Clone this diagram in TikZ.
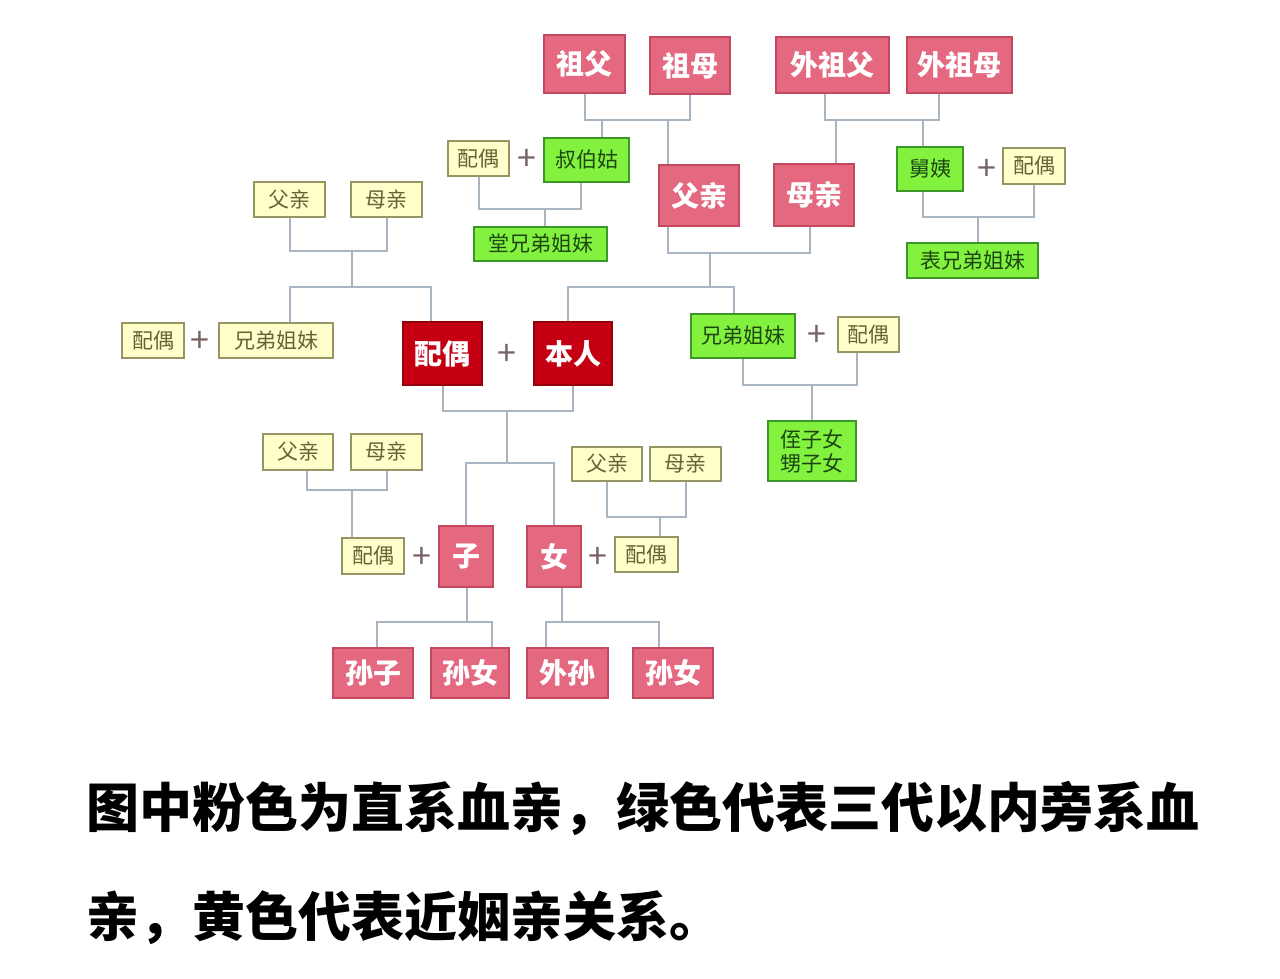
\documentclass[tikz,border=0pt]{standalone}
\usepackage{fontspec}
\newfontfamily\cjk{Noto Sans CJK SC}
\definecolor{pinkfill}{RGB}{228,104,128}
\definecolor{pinkline}{RGB}{196,72,96}
\definecolor{redfill}{RGB}{196,0,18}
\definecolor{redline}{RGB}{150,0,10}
\definecolor{greenfill}{RGB}{130,242,62}
\definecolor{greenline}{RGB}{60,150,40}
\definecolor{greentext}{RGB}{30,70,20}
\definecolor{yellowfill}{RGB}{255,255,204}
\definecolor{yellowline}{RGB}{150,150,100}
\definecolor{yellowtext}{RGB}{100,100,50}
\definecolor{plusgray}{RGB}{120,100,100}
\definecolor{linkgray}{RGB}{168,180,192}
\tikzset{
    pinkbox/.style={draw=pinkline, fill=pinkfill, line width=1.2pt, inner sep=0pt,
        text=white, font=\cjk\bfseries\fontsize{28}{30}\selectfont},
    redbox/.style={pinkbox, draw=redline, fill=redfill},
    greenbox/.style={draw=greenline, fill=greenfill, line width=1.2pt, inner sep=0pt,
        text=greentext, font=\cjk\fontsize{21}{24}\selectfont},
    yellowbox/.style={greenbox, draw=yellowline, fill=yellowfill, text=yellowtext},
    plus/.style={text=plusgray, font=\cjk\fontsize{34}{34}\selectfont, inner sep=0pt, yshift=-3pt},
    link/.style={draw=linkgray, line width=2pt}
}
\begin{document}
\begin{tikzpicture}[x=1pt, y=-1pt]
\useasboundingbox [fill=white] ( 0, 0 ) rectangle ( 1280, 978 );

% деды
                \node [pinkbox, minimum width=81pt, minimum height=58pt] (zf) at ( 584.5, 64 ) {祖父};
                \node [pinkbox, minimum width=80pt, minimum height=57pt] (zm) at ( 690, 65.5 ) {祖母};
                \node [pinkbox, minimum width=113pt, minimum height=56pt] (wzf) at ( 832.5, 65 ) {外祖父};
                \node [pinkbox, minimum width=105pt, minimum height=56pt] (wzm) at ( 959.5, 65 ) {外祖母};

% родители и их родня
                \node [pinkbox, minimum width=80pt, minimum height=61pt] (fq) at ( 699, 195.5 ) {父亲};
                \node [pinkbox, minimum width=80pt, minimum height=62pt] (mq) at ( 814, 195 ) {母亲};
                \node [greenbox, minimum width=85pt, minimum height=44pt] (sbg) at ( 586.5, 160 ) {叔伯姑};
                \node [yellowbox, minimum width=61pt, minimum height=35pt] (po1) at ( 478.5, 158.5 ) {配偶};
                \node [plus] (pl1) at ( 527, 157 ) {+};
                \node [greenbox, minimum width=133pt, minimum height=34pt] (tx) at ( 540.5, 244 ) {堂兄弟姐妹};
                \node [greenbox, minimum width=66pt, minimum height=44pt] (jy) at ( 930, 169 ) {舅姨};
                \node [plus] (pl2) at ( 987, 167 ) {+};
                \node [yellowbox, minimum width=62pt, minimum height=36pt] (po2) at ( 1034, 166 ) {配偶};
                \node [greenbox, minimum width=131pt, minimum height=35pt] (bx) at ( 972.5, 260.5 ) {表兄弟姐妹};

% родители супруга
                \node [yellowbox, minimum width=71pt, minimum height=35pt] (yf1) at ( 289.5, 199.5 ) {父亲};
                \node [yellowbox, minimum width=71pt, minimum height=35pt] (ym1) at ( 386.5, 199.5 ) {母亲};
                \node [yellowbox, minimum width=62pt, minimum height=35pt] (po3) at ( 153, 340.5 ) {配偶};
                \node [plus] (pl3) at ( 200, 339 ) {+};
                \node [yellowbox, minimum width=114pt, minimum height=35pt] (xd2) at ( 276, 340.5 ) {兄弟姐妹};

% я и супруг
                \node [redbox, minimum width=79pt, minimum height=63pt] (po) at ( 442.5, 353.5 ) {配偶};
                \node [plus] (pl4) at ( 507, 352 ) {+};
                \node [redbox, minimum width=78pt, minimum height=63pt] (br) at ( 573, 353.5 ) {本人};

% братья и сестры
                \node [greenbox, minimum width=104pt, minimum height=44pt] (xd) at ( 743, 336 ) {兄弟姐妹};
                \node [plus] (pl5) at ( 817, 333 ) {+};
                \node [yellowbox, minimum width=61pt, minimum height=35pt] (po4) at ( 868.5, 334.5 ) {配偶};
                \node [greenbox, minimum width=88pt, minimum height=60pt, align=center] (zs) at ( 812, 451 ) {侄子女\\甥子女};

% дети
                \node [yellowbox, minimum width=70pt, minimum height=36pt] (yf2) at ( 298, 452 ) {父亲};
                \node [yellowbox, minimum width=71pt, minimum height=36pt] (ym2) at ( 386.5, 452 ) {母亲};
                \node [yellowbox, minimum width=62pt, minimum height=36pt] (po5) at ( 373, 556 ) {配偶};
                \node [plus] (pl6) at ( 422, 555 ) {+};
                \node [pinkbox, minimum width=54pt, minimum height=61pt] (zi) at ( 466, 556.5 ) {子};
                \node [pinkbox, minimum width=54pt, minimum height=61pt] (nv) at ( 554, 556.5 ) {女};
                \node [plus] (pl7) at ( 598, 555 ) {+};
                \node [yellowbox, minimum width=63pt, minimum height=35pt] (po6) at ( 646.5, 554.5 ) {配偶};
                \node [yellowbox, minimum width=70pt, minimum height=34pt] (yf3) at ( 607, 464 ) {父亲};
                \node [yellowbox, minimum width=71pt, minimum height=34pt] (ym3) at ( 685.5, 464 ) {母亲};

% внуки
                \node [pinkbox, minimum width=80pt, minimum height=50pt] (sz) at ( 373, 673 ) {孙子};
                \node [pinkbox, minimum width=78pt, minimum height=50pt] (sn1) at ( 470, 673 ) {孙女};
                \node [pinkbox, minimum width=81pt, minimum height=50pt] (ws) at ( 567.5, 673 ) {外孙};
                \node [pinkbox, minimum width=80pt, minimum height=50pt] (sn2) at ( 673, 673 ) {孙女};

% связи
                \coordinate (b1) at ( 602, 120 );
                \coordinate (b1r) at ( 668, 120 );
                \draw [link] (zf.south) |- (b1) -| (zm.south);
                \draw [link] (b1) -- (b1 |- sbg.north);
                \draw [link] (b1r) -- (b1r |- fq.north);

                \coordinate (b2) at ( 836, 120 );
                \coordinate (b2r) at ( 923, 120 );
                \draw [link] ([xshift=-8]wzf.south) |- (b2) -| ([xshift=-21]wzm.south);
                \draw [link] (b2) -- (b2 |- mq.north);
                \draw [link] (b2r) -- (b2r |- jy.north);

                \coordinate (b3) at ( 545, 209 );
                \draw [link] (po1.south) |- (b3) -| ([xshift=-6]sbg.south);
                \draw [link] (b3) -- (b3 |- tx.north);

                \coordinate (b4) at ( 978, 217 );
                \draw [link] ([xshift=-7]jy.south) |- (b4) -| (po2.south);
                \draw [link] (b4) -- (b4 |- bx.north);

                \coordinate (b5) at ( 710, 253 );
                \coordinate (b5d) at ( 710, 287 );
                \draw [link] ([xshift=-31]fq.south) |- (b5) -| ([xshift=-4]mq.south);
                \draw [link] (b5) -- (b5d);
                \draw [link] ([xshift=-5]br.north) |- (b5d) -| ([xshift=-9]xd.north);

                \coordinate (b6) at ( 352, 251 );
                \coordinate (b6d) at ( 352, 287 );
                \draw [link] (yf1.south) |- (b6) -| (ym1.south);
                \draw [link] (b6) -- (b6d);
                \draw [link] ([xshift=14]xd2.north) |- (b6d) -| ([xshift=-12]po.north);

                \coordinate (b7) at ( 507, 411 );
                \coordinate (b7d) at ( 507, 463 );
                \draw [link] (po.south) |- (b7) -| (br.south);
                \draw [link] (b7) -- (b7d);
                \draw [link] (zi.north) |- (b7d) -| (nv.north);

                \coordinate (b8) at ( 812, 385 );
                \draw [link] (xd.south) |- (b8) -| ([xshift=-12]po4.south);
                \draw [link] (b8) -- (zs.north);

                \coordinate (b9) at ( 352, 490 );
                \draw [link] ([xshift=9]yf2.south) |- (b9) -| (ym2.south);
                \draw [link] (b9) -- (b9 |- po5.north);

                \coordinate (b10) at ( 660, 517 );
                \draw [link] (yf3.south) |- (b10) -| (ym3.south);
                \draw [link] (b10) -- (b10 |- po6.north);

                \coordinate (b11) at ( 467, 622 );
                \draw [link] (b11 |- zi.south) -- (b11);
                \draw [link] ([xshift=4]sz.north) |- (b11) -| ([xshift=22]sn1.north);

                \coordinate (b12) at ( 562, 622 );
                \draw [link] (b12 |- nv.south) -- (b12);
                \draw [link] ([xshift=-22]ws.north) |- (b12) -| ([xshift=-14]sn2.north);

% подпись
                \node [anchor=west, inner sep=0pt, font=\cjk\bfseries\fontsize{53}{53}\selectfont] (cap1) at ( 86, 808 ) {图中粉色为直系血亲，绿色代表三代以内旁系血};
                \node [anchor=west, inner sep=0pt, font=\cjk\bfseries\fontsize{53}{53}\selectfont] (cap2) at ( 86, 918 ) {亲，黄色代表近姻亲关系。};
\end{tikzpicture}
\end{document}
